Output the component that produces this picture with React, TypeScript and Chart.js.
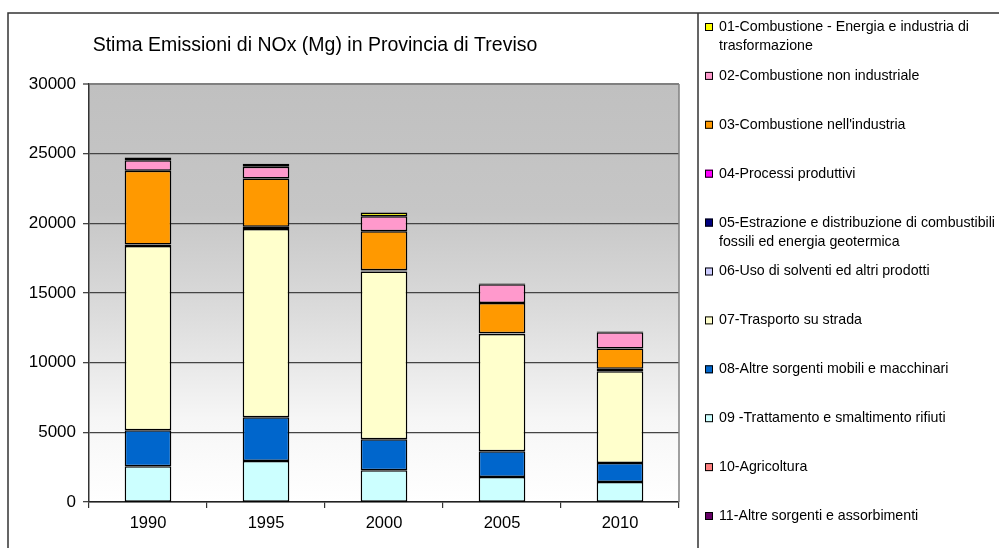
import React, { useEffect, useRef } from "react";
import { Chart, registerables } from "chart.js";

Chart.register(...registerables);

const TITLE = "Stima Emissioni di NOx (Mg) in Provincia di Treviso";
const years = ["1990", "1995", "2000", "2005", "2010"];
const yTicks = [0, 5000, 10000, 15000, 20000, 25000, 30000];

const seriesNames = [
  "01-Combustione - Energia e industria di trasformazione",
  "02-Combustione non industriale",
  "03-Combustione nell'industria",
  "04-Processi produttivi",
  "05-Estrazione e distribuzione di combustibili fossili ed energia geotermica",
  "06-Uso di solventi ed altri prodotti",
  "07-Trasporto su strada",
  "08-Altre sorgenti mobili e macchinari",
  "09 -Trattamento e smaltimento rifiuti",
  "10-Agricoltura",
  "11-Altre sorgenti e assorbimenti",
];
const seriesColors = [
  "#FFFF00",
  "#FF99CC",
  "#FF9900",
  "#FF00FF",
  "#000080",
  "#CCCCFF",
  "#FFFFCC",
  "#0066CC",
  "#CCFFFF",
  "#FF8080",
  "#660066",
];

const s01 = [200, 215, 270, 60, 60];
const s02 = [740, 830, 1080, 1340, 1170];
const s03 = [5300, 3465, 2800, 2180, 1455];
const s04 = [20, 15, 15, 10, 15];
const s05 = [80, 150, 60, 30, 150];
const s06 = [10, 10, 10, 10, 10];
const s07 = [13215, 13500, 12050, 8420, 6580];
const s08 = [2590, 3140, 2225, 1845, 1365];
const s09 = [2550, 2930, 2260, 1780, 1420];
const s10 = [10, 10, 10, 10, 10];
const s11 = [5, 5, 5, 5, 5];

const seriesValues = [s01, s02, s03, s04, s05, s06, s07, s08, s09, s10, s11];

const FONT = "'Liberation Sans', Arial, sans-serif";

const framePlugin = {
  id: "frameAndLegend",
  beforeDraw(chart: any) {
    const { ctx, chartArea } = chart;
    const { left, top, right, bottom } = chartArea;
    ctx.save();
    ctx.fillStyle = "#ffffff";
    ctx.fillRect(0, 0, chart.width, chart.height);
    const g = ctx.createLinearGradient(0, top, 0, bottom);
    g.addColorStop(0, "#c0c0c0");
    g.addColorStop(0.3, "#c6c6c6");
    g.addColorStop(0.55, "#dcdcdc");
    g.addColorStop(0.8, "#f6f6f6");
    g.addColorStop(1, "#ffffff");
    ctx.fillStyle = g;
    ctx.fillRect(left, top, right - left, bottom - top);
    ctx.restore();
  },
  afterDraw(chart: any) {
    const { ctx, chartArea } = chart;
    ctx.save();
    ctx.strokeStyle = "#808080";
    ctx.lineWidth = 1.5;
    ctx.beginPath();
    ctx.moveTo(chartArea.right, chartArea.top);
    ctx.lineTo(chartArea.right, chartArea.bottom);
    ctx.stroke();
    ctx.strokeStyle = "#333333";
    ctx.lineWidth = 1.5;
    ctx.beginPath();
    ctx.moveTo(8, chart.height);
    ctx.lineTo(8, 13);
    ctx.lineTo(chart.width, 13);
    ctx.moveTo(698, 13);
    ctx.lineTo(698, chart.height);
    ctx.stroke();
    ctx.fillStyle = "#000";
    ctx.font = `19.5px ${FONT}`;
    ctx.textAlign = "center";
    ctx.textBaseline = "middle";
    ctx.fillText(TITLE, 315, 46);
    ctx.font = `14.2px ${FONT}`;
    ctx.textAlign = "left";
    const maxW = 300;
    seriesNames.forEach((name, i) => {
      const y = 27 + i * 48.9;
      ctx.fillStyle = seriesColors[i];
      ctx.fillRect(705, y - 4, 8, 8);
      ctx.strokeStyle = "#000";
      ctx.lineWidth = 1;
      ctx.strokeRect(705.5, y - 3.5, 7, 7);
      const words = name.split(" ");
      const lines: string[] = [];
      let cur = "";
      words.forEach((w) => {
        const t = cur ? cur + " " + w : w;
        if (ctx.measureText(t).width > maxW && cur) {
          lines.push(cur);
          cur = w;
        } else cur = t;
      });
      if (cur) lines.push(cur);
      ctx.fillStyle = "#000";
      lines.forEach((ln, j) => ctx.fillText(ln, 719, y + j * 19));
    });
    ctx.restore();
  },
};

export default function App() {
  const ref = useRef<HTMLCanvasElement>(null);
  useEffect(() => {
    if (!ref.current) return;
    const datasets = seriesNames
      .map((name, i) => ({
        label: name,
        data: seriesValues[i],
        backgroundColor: seriesColors[i],
        borderColor: "#000000",
        borderWidth: 1.5,
        borderSkipped: false as any,
        barPercentage: 0.395,
        categoryPercentage: 1,
        stack: "a",
      }))
      .reverse();
    const chart = new Chart(ref.current, {
      type: "bar",
      data: { labels: years, datasets },
      options: {
        animation: false,
        responsive: false,
        devicePixelRatio: 1,
        layout: { padding: { top: 84, right: 320, left: 0, bottom: 0 } },
        plugins: {
          legend: { display: false },
          title: { display: false },
          tooltip: { enabled: false },
        },
        scales: {
          x: {
            stacked: true,
            afterFit: (s: any) => {
              s.height = 46;
            },
            grid: {
              offset: true,
              drawOnChartArea: false,
              drawTicks: true,
              tickLength: 6,
              color: "#333333",
              lineWidth: 1.2,
            },
            border: { color: "#222222", width: 1.5 },
            ticks: {
              color: "#000",
              font: { family: FONT, size: 16.5 },
              padding: 6,
            },
          },
          y: {
            stacked: true,
            min: 0,
            max: 30000,
            afterFit: (s: any) => {
              s.width = 89;
            },
            afterBuildTicks: (s: any) => {
              s.ticks = yTicks.map((v) => ({ value: v }));
            },
            grid: {
              color: (c: any) => (c.tick && c.tick.value === 30000 ? "#808080" : "#444444"),
              lineWidth: (c: any) => (c.tick && c.tick.value === 30000 ? 2 : 1.3),
              tickLength: 6,
            },
            border: { color: "#333333", width: 1.5 },
            ticks: {
              color: "#000",
              font: { family: FONT, size: 17 },
              padding: 7,
              callback: (v: any) => String(v),
            },
          },
        },
      },
      plugins: [framePlugin],
    });
    return () => chart.destroy();
  }, []);
  return (
    <div style={{ position: "absolute", left: 0, top: 0, width: 999, height: 548, background: "#fff" }}>
      <canvas ref={ref} width={999} height={548} style={{ display: "block" }} />
    </div>
  );
}
